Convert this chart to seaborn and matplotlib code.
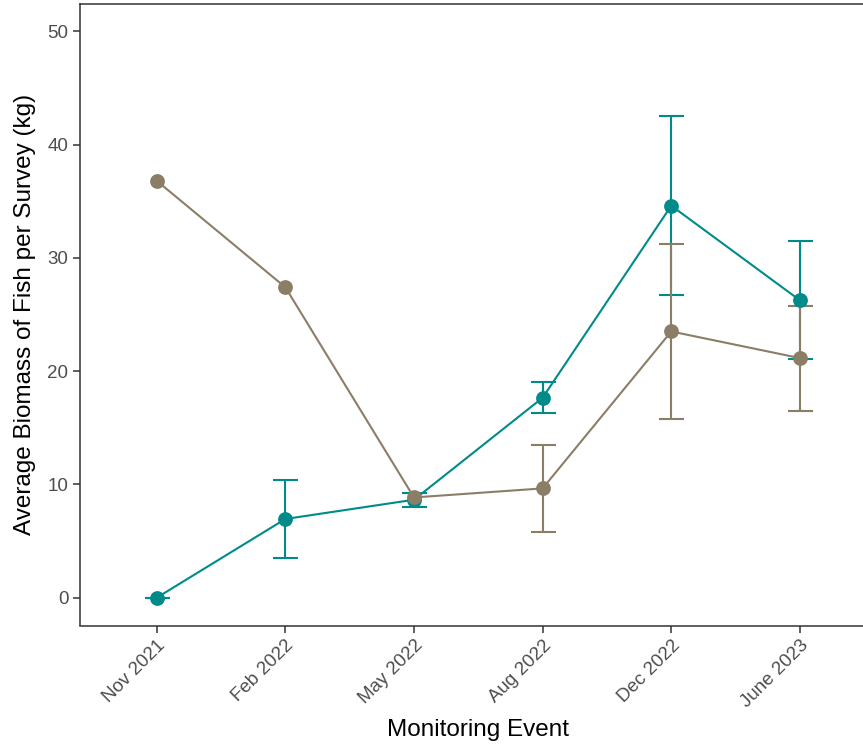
import numpy as np
import pandas as pd
import matplotlib
matplotlib.use("Agg")
import matplotlib.pyplot as plt
import seaborn as sns

# Monitoring events (x categories)
events = ["Nov 2021", "Feb 2022", "May 2022", "Aug 2022", "Dec 2022", "June 2023"]

# Mean biomass per survey (kg) and standard errors for each group
group_names = ["Site B", "Site A"]
site_a_mean = [36.8, 27.4, 8.85, 9.65, 23.5, 21.15]
site_a_se = [np.nan, np.nan, np.nan, 3.84, 7.7, 4.64]
site_b_mean = [0.0, 6.95, 8.65, 17.65, 34.6, 26.25]
site_b_se = [0.0, 3.4, 0.63, 1.37, 7.9, 5.2]

y_ticks = [0, 10, 20, 30, 40, 50]

colors = {"Site A": "#8B7E66", "Site B": "#008B8B"}

df = pd.concat([
    pd.DataFrame({"event": events, "biomass": site_b_mean, "se": site_b_se, "group": "Site B"}),
    pd.DataFrame({"event": events, "biomass": site_a_mean, "se": site_a_se, "group": "Site A"}),
], ignore_index=True)

sns.set_theme(style="white")
plt.rcParams["font.family"] = ["Liberation Sans", "DejaVu Sans"]

W, H = 863, 748
fig = plt.figure(figsize=(W / 100, H / 100), dpi=100)
left_px, top_px, right_px, bottom_px = 79.5, 4.0, 877.1, 625.5
ax = fig.add_axes([left_px / W, 1 - bottom_px / H,
                   (right_px - left_px) / W, (bottom_px - top_px) / H])

# error bars first, then the lines and points on top
for name in group_names:
    sub = df[df["group"] == name]
    xpos = [events.index(e) for e in sub["event"]]
    ax.errorbar(xpos, sub["biomass"], yerr=sub["se"], fmt="none",
                ecolor=colors[name], elinewidth=1.5, capsize=9,
                capthick=1.5, zorder=2)

sns.pointplot(data=df, x="event", y="biomass", hue="group",
              order=events, hue_order=group_names, palette=colors,
              errorbar=None, markers="o", linestyles="-",
              markersize=9.5, linewidth=1.5, legend=False, ax=ax)

ax.set_xlim(-0.6, 5.6)
ax.set_ylim(-2.45, 52.4)
ax.set_yticks(y_ticks)

ax.set_xlabel("Monitoring Event", fontsize=17.5, color="black", labelpad=6)
ax.set_ylabel("Average Biomass of Fish per Survey (kg)", fontsize=17.5,
              color="black", labelpad=8)

ax.tick_params(axis="both", which="both", length=5, width=1.1,
               color="#333333", labelcolor="#4D4D4D", labelsize=13.5,
               left=True, bottom=True, direction="out", pad=3)
for lbl in ax.get_xticklabels():
    lbl.set_rotation(45)
    lbl.set_ha("right")
    lbl.set_rotation_mode("anchor")

for sp in ax.spines.values():
    sp.set_color("#333333")
    sp.set_linewidth(1.1)

ax.grid(False)
fig.savefig("out.png", dpi=100)
